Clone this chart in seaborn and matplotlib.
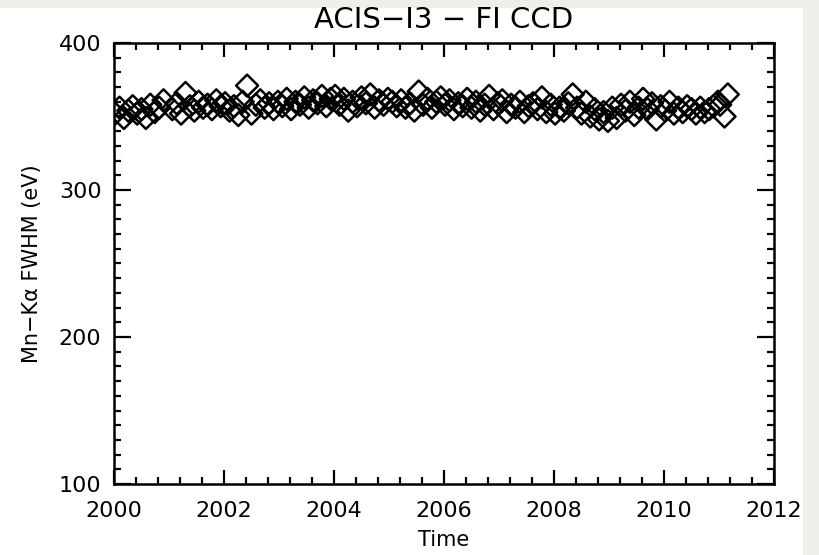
import numpy as np
import pandas as pd
import matplotlib
matplotlib.use("Agg")
import matplotlib.pyplot as plt
from matplotlib.patches import Rectangle
from matplotlib.ticker import MultipleLocator
import seaborn as sns

title = "ACIS\u2212I3 \u2212 FI CCD"
xlabel = "Time"
ylabel = "Mn\u2212K\u03b1 FWHM (eV)"

time = [
    2000.02, 2000.10, 2000.18, 2000.26, 2000.34, 2000.42, 2000.50, 2000.58, 2000.66, 2000.74, 2000.82, 2000.90,
    2001.06, 2001.14, 2001.22, 2001.30, 2001.38, 2001.46, 2001.54, 2001.62, 2001.70, 2001.78, 2001.86, 2001.94,
    2002.02, 2002.10, 2002.18, 2002.26, 2002.34, 2002.42, 2002.50, 2002.58, 2002.66, 2002.74, 2002.82, 2002.90, 2002.98,
    2003.06, 2003.14, 2003.22, 2003.30, 2003.38, 2003.46, 2003.54, 2003.62, 2003.70, 2003.78, 2003.86, 2003.94,
    2004.02, 2004.10, 2004.18, 2004.26, 2004.34, 2004.42, 2004.50, 2004.58, 2004.66, 2004.74, 2004.82, 2004.90, 2004.98,
    2005.06, 2005.14, 2005.22, 2005.30, 2005.38, 2005.46, 2005.54, 2005.62, 2005.70, 2005.78, 2005.86, 2005.94,
    2006.02, 2006.10, 2006.18, 2006.26, 2006.34, 2006.42, 2006.50, 2006.58, 2006.66, 2006.74, 2006.82, 2006.90, 2006.98,
    2007.06, 2007.14, 2007.22, 2007.30, 2007.38, 2007.46, 2007.54, 2007.62, 2007.70, 2007.78, 2007.86, 2007.94,
    2008.02, 2008.10, 2008.18, 2008.26, 2008.34, 2008.42, 2008.50, 2008.58, 2008.66, 2008.74, 2008.82, 2008.90, 2008.98,
    2009.06, 2009.14, 2009.22, 2009.30, 2009.38, 2009.46, 2009.54, 2009.62, 2009.70, 2009.78, 2009.86, 2009.94,
    2010.02, 2010.10, 2010.18, 2010.26, 2010.34, 2010.42, 2010.50, 2010.58, 2010.66, 2010.74, 2010.82, 2010.90, 2010.98,
    2011.02, 2011.10, 2011.16,
]
fwhm = [
    352, 356, 349, 354, 357, 352, 355, 349, 358, 353, 356, 361,
    355, 359, 352, 366, 357, 354, 360, 356, 358, 355, 361, 357,
    359, 354, 357, 351, 360, 371, 352, 358, 361, 356, 359, 355, 360,
    357, 362, 355, 360, 358, 363, 356, 361, 359, 364, 357, 362,
    364, 358, 362, 354, 360, 357, 363, 359, 365, 356, 361, 358, 362,
    360, 357, 361, 356, 359, 354, 367, 358, 362, 356, 360, 363,
    358, 361, 355, 359, 357, 362, 356, 360, 354, 358, 364, 355, 359,
    361, 353, 358, 356, 360, 353, 357, 359, 355, 363, 353, 358,
    352, 356, 354, 359, 365, 356, 352, 360, 350, 355, 348, 353, 347,
    356, 349, 358, 354, 360, 351, 356, 362, 355, 359, 348, 357,
    354, 360, 352, 356, 353, 357, 355, 352, 356, 353, 355, 357, 360,
    358, 350, 365,
]

df = pd.DataFrame({"Time": time, "FWHM": fwhm})

sns.set_style("white")
plt.rcParams["font.family"] = ["DejaVu Sans"]
plt.rcParams["text.color"] = "black"
plt.rcParams["axes.labelcolor"] = "black"

fig = plt.figure(figsize=(8.19, 5.55), dpi=100)
fig.patch.set_facecolor("white")
# light grey frame at top and right
fig.patches.append(Rectangle((0, 1 - 8 / 555), 1, 8 / 555, transform=fig.transFigure,
                             facecolor="#efefe9", edgecolor="none", zorder=-10))
fig.patches.append(Rectangle((803 / 819, 0), 16 / 819, 1, transform=fig.transFigure,
                             facecolor="#efefe9", edgecolor="none", zorder=-10))

ax = fig.add_axes([114 / 819, 1 - 484 / 555, 660 / 819, 441 / 555])

sns.scatterplot(data=df, x="Time", y="FWHM", ax=ax, marker="D", s=125,
                facecolor="none", edgecolor="black", linewidth=1.8, legend=False)

ax.set_xlim(2000, 2012)
ax.set_ylim(100, 400)
ax.xaxis.set_major_locator(MultipleLocator(2))
ax.xaxis.set_minor_locator(MultipleLocator(0.4))
ax.yaxis.set_major_locator(MultipleLocator(100))
ax.yaxis.set_minor_locator(MultipleLocator(10))
ax.tick_params(which="both", direction="in", top=True, right=True, bottom=True, left=True,
               width=1.6, color="black", labelsize=16, labelcolor="black")
ax.tick_params(axis="x", which="major", length=10, pad=12)
ax.tick_params(axis="y", which="major", length=12, pad=9)
ax.tick_params(which="minor", length=5)
for sp in ax.spines.values():
    sp.set_visible(True)
    sp.set_linewidth(1.8)
    sp.set_color("black")

ax.set_xlabel(xlabel, fontsize=15, labelpad=7, color="black")
ax.set_ylabel(ylabel, fontsize=15, labelpad=12, color="black")
fig.text(444 / 819, 1 - 20 / 555, title, ha="center", va="center", fontsize=21,
         color="black")

fig.savefig("out.png", dpi=100, facecolor=fig.get_facecolor())
